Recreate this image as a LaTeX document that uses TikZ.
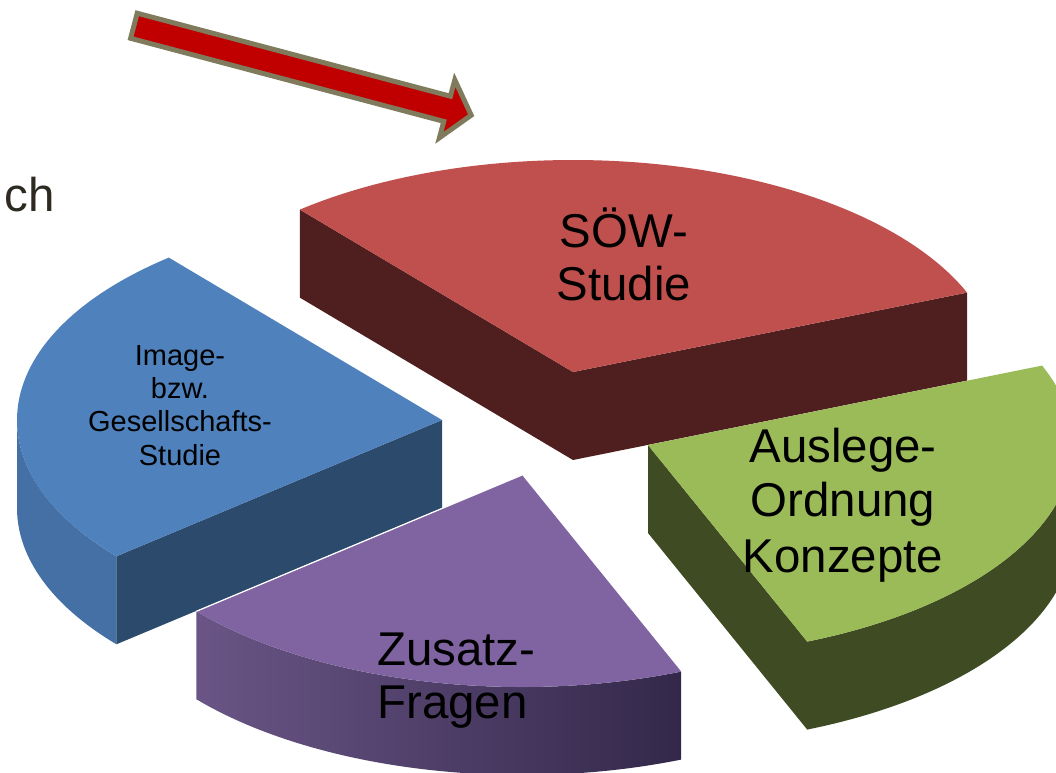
\documentclass[tikz,border=0pt]{standalone}
\usepackage{fontspec}
\setmainfont{Liberation Sans}
\usetikzlibrary{calc}
\definecolor{redtop}{HTML}{C0504D}
\definecolor{redside}{HTML}{4F1F1F}
\definecolor{bluetop}{HTML}{4F81BD}
\definecolor{blueside}{HTML}{2C4A6B}
\definecolor{bluecurve}{HTML}{4470A6}
\definecolor{greentop}{HTML}{9BBB59}
\definecolor{greenside}{HTML}{3F4B22}
\definecolor{purpletop}{HTML}{8064A2}
\definecolor{purpleA}{HTML}{6A5586}
\definecolor{purpleB}{HTML}{33284A}
\definecolor{arrowfill}{HTML}{C00000}
\definecolor{arrowedge}{HTML}{7F7B5C}
\definecolor{textgray}{HTML}{2D2A22}
\begin{document}
\begin{tikzpicture}[x=0.02cm,y=-0.02cm,
  bigtext/.style={font=\fontsize{27}{30}\selectfont, inner sep=0pt, anchor=base},
  smalltext/.style={font=\fontsize{16.5}{19}\selectfont, inner sep=0pt, anchor=base},
  ell/.style={x radius=425, y radius=212}]
\useasboundingbox (0,0) rectangle (1056,772);

% ---------- red slice (SOW) ----------
\coordinate (rC) at (573,372);
\coordinate (rL) at ($(rC)+(-130:425 and 212)$);
\coordinate (rR) at ($(rC)+(-22:425 and 212)$);
\fill[redside] (rL) -- (rC) -- ($(rC)+(0,88)$) -- ($(rL)+(0,88)$) -- cycle;
\fill[redside] (rC) -- (rR) -- ($(rR)+(0,88)$) -- ($(rC)+(0,88)$) -- cycle;
\fill[redtop] (rC) -- (rL) arc[start angle=-130, end angle=-22, ell] -- cycle;

% ---------- blue slice ----------
\coordinate (bC) at (442,420);
\coordinate (bT) at ($(bC)+(230:425 and 212)$);
\coordinate (bB) at ($(bC)+(140:425 and 212)$);
\fill[bluecurve] (bB) arc[start angle=140, end angle=180, ell] -- ++(0,88)
   arc[start angle=180, end angle=140, ell] -- cycle;
\fill[blueside] (bC) -- (bB) -- ($(bB)+(0,88)$) -- ($(bC)+(0,88)$) -- cycle;
\fill[bluetop] (bC) -- (bT) arc[start angle=230, end angle=140, ell] -- cycle;

% ---------- green slice ----------
\coordinate (gC) at (648,445);
\coordinate (gR) at ($(gC)+(-22:425 and 212)$);
\coordinate (gE) at ($(gC)+(0:425 and 212)$);
\coordinate (gB) at ($(gC)+(68:425 and 212)$);
\fill[greenside] (gE) arc[start angle=0, end angle=68, ell] -- ++(0,88)
   arc[start angle=68, end angle=0, ell] -- cycle;
\fill[greenside] (gC) -- (gB) -- ($(gB)+(0,88)$) -- ($(gC)+(0,88)$) -- cycle;
\fill[greentop] (gC) -- (gR) arc[start angle=-22, end angle=68, ell] -- cycle;

% ---------- purple slice ----------
\coordinate (pC) at (522,475);
\coordinate (pR) at ($(pC)+(68:425 and 212)$);
\coordinate (pL) at ($(pC)+(140:425 and 212)$);
\shade[left color=purpleA, right color=purpleB] (pR) arc[start angle=68, end angle=140, ell] -- ++(0,88)
   arc[start angle=140, end angle=68, ell] -- cycle;
\fill[purpletop] (pC) -- (pR) arc[start angle=68, end angle=140, ell] -- cycle;
\draw[white, line width=0.7pt] (pL) -- (pC);

% ---------- arrow ----------
\filldraw[fill=arrowfill, draw=arrowedge, line width=2.8pt, miter limit=10]
  (137.2,13.2) -- (450.4,96.2) -- (454.8,79.8) -- (471.2,115.2)
  -- (439.4,137.8) -- (443.8,121.4) -- (130.6,38.3) -- cycle;

% ---------- texts ----------
\node[bigtext] (sow1) at (624,247) {SÖW-};
\node[bigtext] (sow2) at (624,300) {Studie};
\node[bigtext] (aus1) at (843,462) {Auslege-};
\node[bigtext] (aus2) at (843,516) {Ordnung};
\node[bigtext] (aus3) at (843,572) {Konzepte};
\node[bigtext, anchor=base west] (zus1) at (377,665) {Zusatz-};
\node[bigtext, anchor=base west] (zus2) at (377,718) {Fragen};
\node[smalltext] (img1) at (180,365) {Image-};
\node[smalltext] (img2) at (180,398.3) {bzw.};
\node[smalltext] (img3) at (180,431.7) {Gesellschafts-};
\node[smalltext] (img4) at (180,465) {Studie};
\node[font=\fontsize{27}{30}\selectfont, text=textgray, inner sep=0pt, anchor=base east] (ch) at (55,211) {ch};
\end{tikzpicture}
\end{document}
